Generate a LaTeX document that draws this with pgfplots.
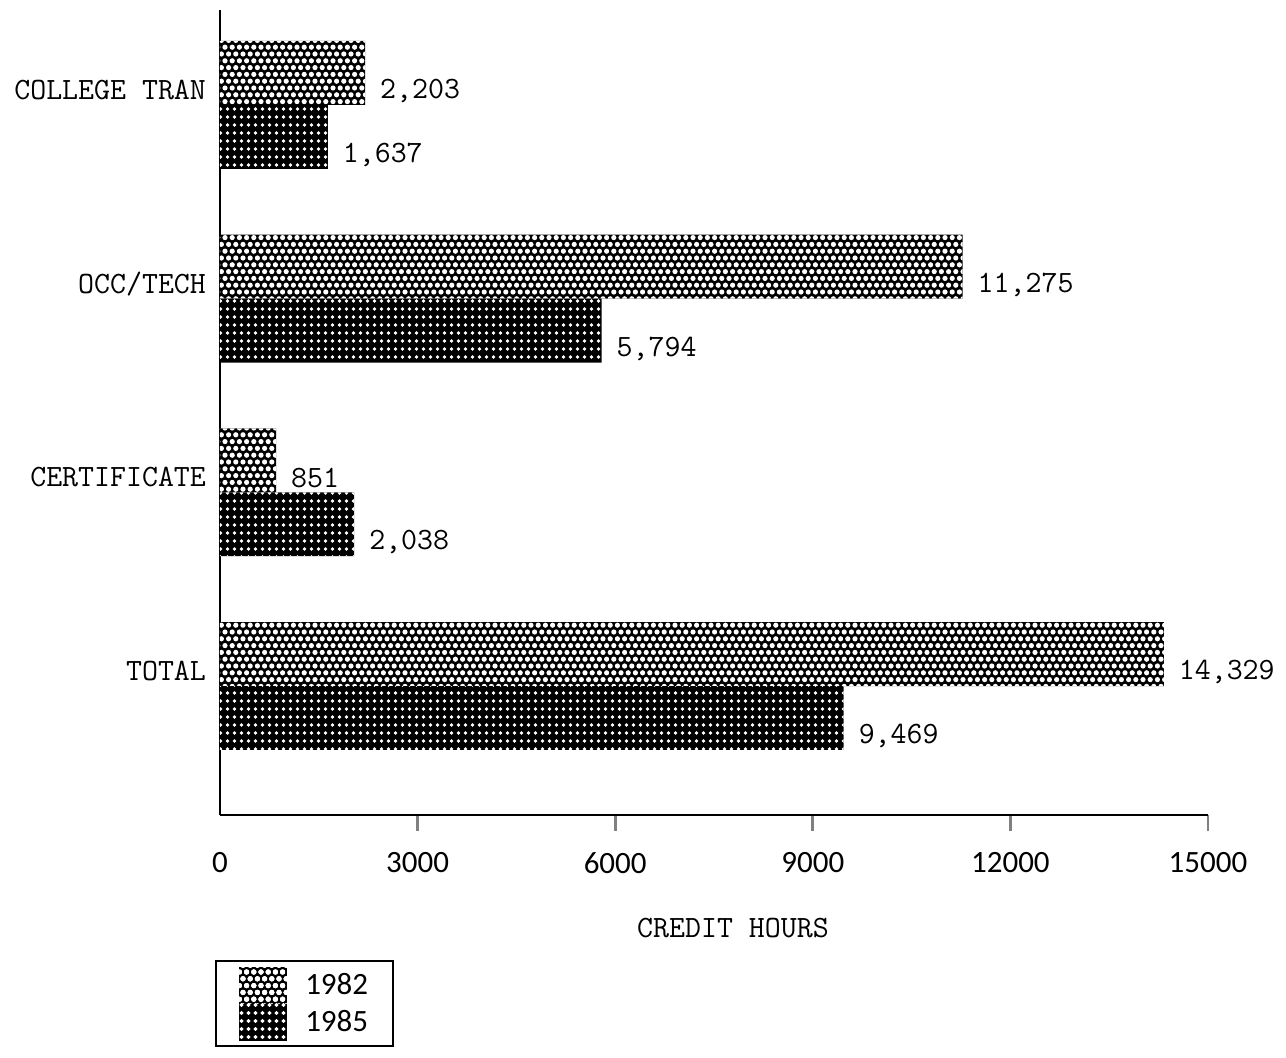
\documentclass[border=0pt]{standalone}
\usepackage{fontspec}
\newfontfamily\sansfont{Carlito}
\usepackage{pgfplots}
\pgfplotsset{compat=1.18}
\usetikzlibrary{patterns}

\pgfdeclarepatternformonly{hexdots}{\pgfqpoint{-1.5pt}{-1.5pt}}{\pgfqpoint{5.1pt}{8.3pt}}{\pgfqpoint{3.6pt}{6.8pt}}{%
  \pgfpathcircle{\pgfqpoint{0.9pt}{1.7pt}}{1.3pt}%
  \pgfpathcircle{\pgfqpoint{2.7pt}{5.1pt}}{1.3pt}%
  \pgfusepath{fill}}
\pgfdeclarepatternformonly{griddots}{\pgfqpoint{-1pt}{-1pt}}{\pgfqpoint{4.5pt}{5pt}}{\pgfqpoint{3.5pt}{4pt}}{%
  \pgfpathcircle{\pgfqpoint{1.75pt}{2pt}}{0.95pt}%
  \pgfusepath{fill}}

\newcommand\ttf{\ttfamily\fontsize{15.5}{18}\selectfont}
\newcommand\sff{\sansfont\fontsize{15.5}{18}\selectfont}

\begin{document}
\begin{tikzpicture}
\begin{axis}[
  at={(0,0)}, anchor=south west,
  scale only axis, width=494pt, height=402.5pt,
  xbar, bar width=0.33,
  xmin=0, xmax=15000, ymin=-0.666, ymax=3.49,
  clip=false,
  scaled x ticks=false,
  axis lines*=left,
  axis line style={line width=1.4pt},
  xtick={3000,6000,9000,12000,15000},
  xticklabels={3000,6000,9000,12000,15000},
  extra x ticks={0}, extra x tick labels={0},
  extra x tick style={x tick style={draw=none}},
  tick align=outside, major tick length=8pt,
  x tick style={line width=1.4pt},
  ytick={0,1,2,3},
  yticklabels={TOTAL,CERTIFICATE,OCC/TECH,COLLEGE TRAN},
  y tick style={draw=none},
  xticklabel style={font=\sff, yshift=-7pt},
  yticklabel style={font=\ttf, yshift=7.5pt, xshift=4.5pt},
  xlabel={CREDIT HOURS},
  xlabel style={font=\ttf, at={(axis description cs:0.5,0)}, anchor=center, yshift=-56.5pt, xshift=9.5pt},
  nodes near coords,
  every node near coord/.append style={font=\ttf, anchor=west, xshift=4pt, yshift=-9pt, black},
  legend style={at={(-0.005,-0.18)}, anchor=north west, draw=black, line width=1.2pt,
    inner xsep=7.5pt, inner ysep=2.75pt, row sep=0pt,
    nodes={inner xsep=5pt, inner ysep=0pt, font=\sansfont\fontsize{15.5}{17}\selectfont},
    cells={anchor=west}},
  /pgf/number format/1000 sep={,},
  /pgf/number format/assume math mode=true,
]
\addplot[fill=black, draw=none, bar shift=0.165,
  postaction={pattern=hexdots, pattern color=white},
  legend image code/.code={%
    \fill[white] (0pt,-9.25pt) rectangle (32pt,9.25pt);
    \fill[black] (4pt,-9.25pt) rectangle (28pt,9.25pt);
    \fill[pattern=hexdots, pattern color=white] (4pt,-9.25pt) rectangle (28pt,9.25pt);}]
  coordinates {(14329,0) (851,1) (11275,2) (2203,3)};
\addlegendentry{1982}
\addplot[fill=black, draw=none, bar shift=-0.165,
  postaction={pattern=griddots, pattern color=white},
  legend image code/.code={%
    \fill[white] (0pt,-9.25pt) rectangle (32pt,9.25pt);
    \fill[black] (4pt,-9.25pt) rectangle (28pt,9.25pt);
    \fill[pattern=griddots, pattern color=white] (4pt,-9.25pt) rectangle (28pt,9.25pt);}]
  coordinates {(9469,0) (2038,1) (5794,2) (1637,3)};
\addlegendentry{1985}
\end{axis}
\pgfresetboundingbox
\useasboundingbox (-110pt,-121pt) rectangle (533pt,407.5pt);
\end{tikzpicture}
\end{document}
